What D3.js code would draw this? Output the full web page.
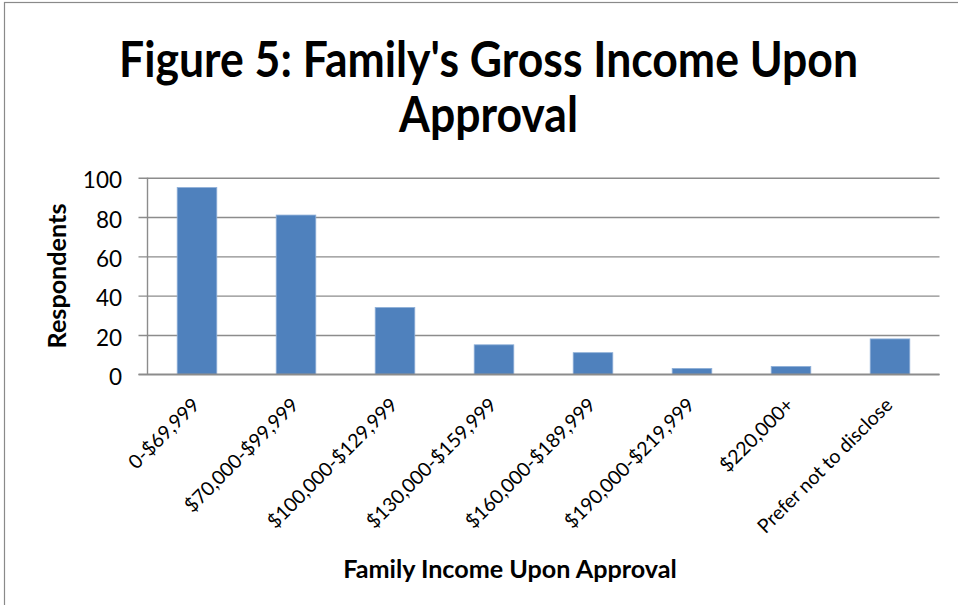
<!DOCTYPE html>
<html>
<head>
<meta charset="utf-8">
<script src="https://cdn.jsdelivr.net/npm/d3@7"></script>
<style>
  html, body { margin: 0; padding: 0; background: #ffffff; }
  svg { display: block; }
</style>
</head>
<body>
<svg id="chart" width="958" height="605"></svg>
<script>
// ---- Data ----
const categories = [
  "0-$69,999",
  "$70,000-$99,999",
  "$100,000-$129,999",
  "$130,000-$159,999",
  "$160,000-$189,999",
  "$190,000-$219,999",
  "$220,000+",
  "Prefer not to disclose"
];
const respondents = [95, 81, 34, 15, 11, 3, 4, 18];
const yTicks = [0, 20, 40, 60, 80, 100];
const titleLines = ["Figure 5: Family's Gross Income Upon", "Approval"];
const xAxisTitle = "Family Income Upon Approval";
const yAxisTitle = "Respondents";

// ---- Layout ----
const W = 958, H = 605;
const plot = { left: 147.5, right: 939.5, top: 177.7, bottom: 374.3 };
const FONT = "Lato, 'Open Sans', 'DejaVu Sans', sans-serif";
const GRID = "#8c8c8c";
const BAR = "#4f81bd";

const svg = d3.select("#chart");

// chart area border (extends beyond the visible frame on right/bottom)
svg.append("rect")
  .attr("x", 4.5).attr("y", 2.5)
  .attr("width", W + 20).attr("height", H + 20)
  .attr("fill", "#ffffff")
  .attr("stroke", "#8a8a8a").attr("stroke-width", 1.2);

const x = d3.scaleBand()
  .domain(categories)
  .range([plot.left, plot.right])
  .paddingInner(0.6)
  .paddingOuter(0.3);

const y = d3.scaleLinear()
  .domain([0, 100])
  .range([plot.bottom, plot.top]);

function fit(sel, target) {
  const w = sel.node().getComputedTextLength();
  const fs = parseFloat(sel.attr("font-size"));
  sel.attr("font-size", (fs * target / w).toFixed(2));
}

// Y axis with gridlines
const yAxis = d3.axisLeft(y)
  .tickValues(yTicks)
  .tickSize(-(plot.right - plot.left))
  .tickPadding(0)
  .tickFormat(d3.format("d"));

const gy = svg.append("g")
  .attr("transform", `translate(${plot.left},0)`)
  .call(yAxis);
gy.select(".domain").remove();
gy.selectAll(".tick line")
  .attr("x1", -9)
  .attr("stroke", GRID).attr("stroke-width", 1.4);
gy.selectAll(".tick text")
  .attr("x", -25.5)
  .attr("dy", "0.45em")
  .attr("fill", "#000")
  .attr("font-family", FONT)
  .attr("font-size", 22.5)
  .attr("text-anchor", "end");

// vertical axis line
svg.append("line")
  .attr("x1", plot.left).attr("x2", plot.left)
  .attr("y1", y(100)).attr("y2", y(0))
  .attr("stroke", GRID).attr("stroke-width", 1.4);

// Bars
svg.append("g").selectAll("rect")
  .data(categories)
  .join("rect")
  .attr("x", d => x(d))
  .attr("width", x.bandwidth())
  .attr("y", (d, i) => y(respondents[i]))
  .attr("height", (d, i) => y(0) - y(respondents[i]))
  .attr("fill", BAR)
  .attr("stroke", "#8fb0d8")
  .attr("stroke-width", 0.8);

// baseline redraw on top
svg.append("line")
  .attr("x1", plot.left - 9).attr("x2", plot.right)
  .attr("y1", y(0)).attr("y2", y(0))
  .attr("stroke", GRID).attr("stroke-width", 1.4);

// X tick labels (rotated -45)
const xl = svg.append("g");
categories.forEach(c => {
  const cx = x(c) + x.bandwidth() / 2;
  xl.append("text")
    .attr("transform", `translate(${cx - 1},${plot.bottom + 27}) rotate(-45)`)
    .attr("text-anchor", "end")
    .attr("dy", "0.35em")
    .attr("font-family", FONT)
    .attr("font-size", 19.5)
    .attr("fill", "#000")
    .text(c);
});

// Title (taller glyphs, compressed to the reference width)
svg.append("text")
  .attr("x", 488.5).attr("y", 77)
  .attr("text-anchor", "middle")
  .attr("font-family", FONT).attr("font-weight", "bold")
  .attr("font-size", 49).attr("fill", "#000")
  .attr("textLength", 739).attr("lengthAdjust", "spacingAndGlyphs")
  .text(titleLines[0]);
svg.append("text")
  .attr("x", 488.5).attr("y", 131.5)
  .attr("text-anchor", "middle")
  .attr("font-family", FONT).attr("font-weight", "bold")
  .attr("font-size", 49).attr("fill", "#000")
  .attr("textLength", 179).attr("lengthAdjust", "spacingAndGlyphs")
  .text(titleLines[1]);

// Axis titles
const xt = svg.append("text")
  .attr("x", 510).attr("y", 578)
  .attr("text-anchor", "middle")
  .attr("font-family", FONT).attr("font-weight", "bold")
  .attr("font-size", 20).attr("fill", "#000")
  .text(xAxisTitle);
fit(xt, 334);

const yt = svg.append("text")
  .attr("transform", `translate(57,${(plot.top + plot.bottom) / 2}) rotate(-90)`)
  .attr("text-anchor", "middle")
  .attr("dy", "0.35em")
  .attr("font-family", FONT).attr("font-weight", "bold")
  .attr("font-size", 20).attr("fill", "#000")
  .text(yAxisTitle);
fit(yt, 145);
</script>
</body>
</html>
